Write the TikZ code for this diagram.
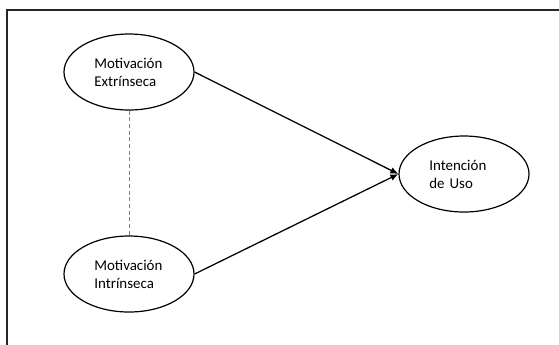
\documentclass[tikz,border=0pt]{standalone}
\usepackage{fontspec}
\setmainfont{Carlito}
\usetikzlibrary{arrows.meta,shapes.geometric}

\begin{document}
\begin{tikzpicture}[x=0.75pt,y=-0.75pt,
 font=\fontsize{11.2}{13.5}\selectfont,
 var/.style={draw,ellipse,line width=0.9pt,minimum width=97.5pt,minimum height=57pt,text width=52pt,align=left,inner sep=1pt},
 link/.style={line width=0.95pt,-{Latex[length=6pt,width=5pt]}}]
 \clip (0,0) rectangle (559,344);
 \useasboundingbox (0,0) rectangle (559,344);
 \draw[line width=0.9pt,black!85] (7,10) rectangle (620,400);
 \node[var](ext) at (129,72){Motivación\\Extrínseca};
 \node[var](intr) at (129,274){Motivación\\Intrínseca};
 \node[var](uso) at (464,174){Intención\\de Uso};
 \draw[gray,line width=0.6pt,dash pattern=on 3pt off 2pt](ext)--(intr);
 \draw[link](ext.east)--(uso.west);
 \draw[link](intr.east)--(uso.west);
\end{tikzpicture}
\end{document}
